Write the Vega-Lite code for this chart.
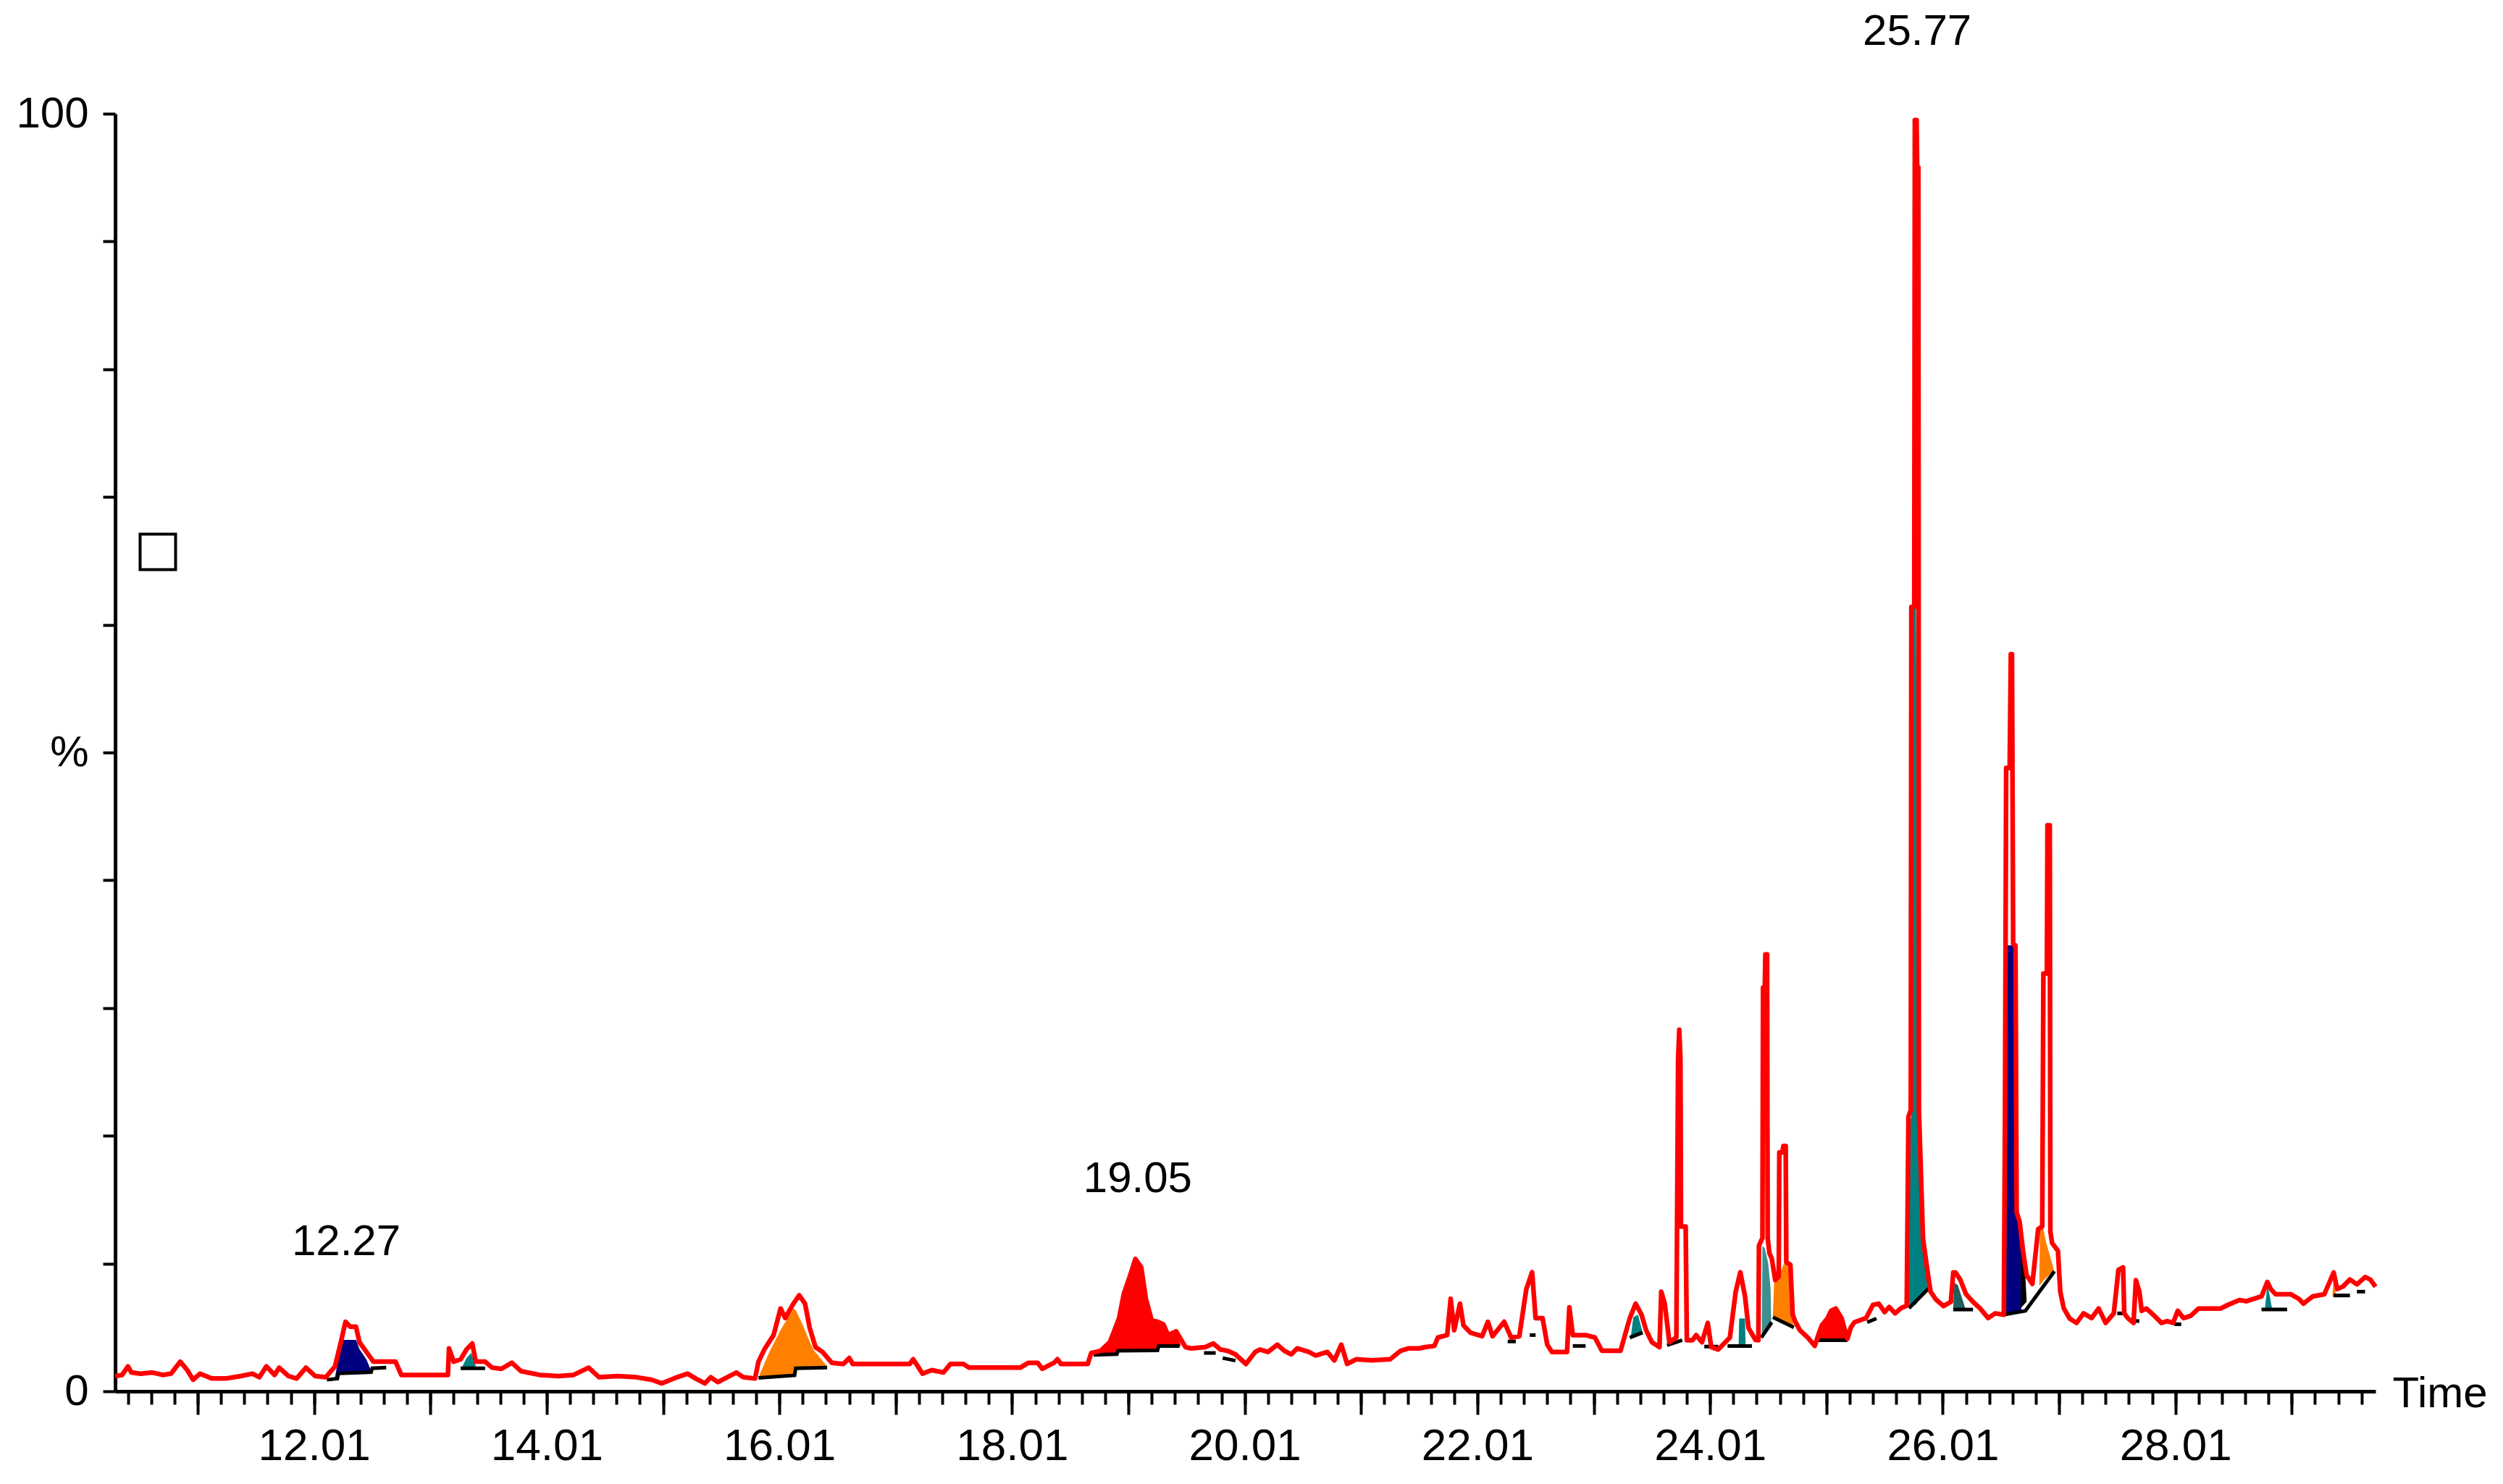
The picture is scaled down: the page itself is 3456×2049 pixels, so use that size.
{
  "$schema": "https://vega.github.io/schema/vega-lite/v6.json",
  "autosize": {"type": "none"},
  "padding": {"left": 159, "top": 157, "right": 176, "bottom": 128},
  "width": 3121,
  "height": 1764,
  "background": "white",
  "config": {"view": {"stroke": null}},
  "datasets": {
    "trace": [
      {"t":10.30,"v":1.19},{"t":10.36,"v":1.28},{"t":10.41,"v":1.95},{"t":10.44,"v":1.47},{"t":10.52,"v":1.38},{"t":10.62,"v":1.47},{"t":10.71,"v":1.28},{"t":10.78,"v":1.38},{"t":10.86,"v":2.32},{"t":10.92,"v":1.66},{"t":10.97,"v":0.91},{"t":11.03,"v":1.38},{"t":11.13,"v":1.0},{"t":11.25,"v":1.0},{"t":11.38,"v":1.19},{"t":11.48,"v":1.38},{"t":11.54,"v":1.1},{"t":11.60,"v":1.95},{"t":11.67,"v":1.28},{"t":11.71,"v":1.85},{"t":11.79,"v":1.19},{"t":11.86,"v":1.0},{"t":11.94,"v":1.85},{"t":12.02,"v":1.19},{"t":12.11,"v":1.1},{"t":12.19,"v":1.95},{"t":12.24,"v":3.84},{"t":12.28,"v":5.44},{"t":12.32,"v":5.06},{"t":12.37,"v":5.06},{"t":12.40,"v":3.84},{"t":12.46,"v":3.08},{"t":12.52,"v":2.32},{"t":12.59,"v":2.32},{"t":12.71,"v":2.32},{"t":12.76,"v":1.28},{"t":13.00,"v":1.28},{"t":13.16,"v":1.28},{"t":13.17,"v":3.36},{"t":13.21,"v":2.32},{"t":13.27,"v":2.51},{"t":13.32,"v":3.27},{"t":13.37,"v":3.74},{"t":13.40,"v":2.32},{"t":13.48,"v":2.32},{"t":13.54,"v":1.85},{"t":13.62,"v":1.76},{"t":13.71,"v":2.23},{"t":13.79,"v":1.57},{"t":13.95,"v":1.28},{"t":14.11,"v":1.19},{"t":14.24,"v":1.28},{"t":14.37,"v":1.85},{"t":14.46,"v":1.1},{"t":14.62,"v":1.19},{"t":14.78,"v":1.1},{"t":14.91,"v":0.91},{"t":15.00,"v":0.62},{"t":15.13,"v":1.1},{"t":15.22,"v":1.38},{"t":15.29,"v":1.0},{"t":15.37,"v":0.62},{"t":15.42,"v":1.1},{"t":15.48,"v":0.72},{"t":15.54,"v":1.0},{"t":15.64,"v":1.47},{"t":15.70,"v":1.1},{"t":15.80,"v":1.0},{"t":15.83,"v":2.32},{"t":15.88,"v":3.27},{"t":15.96,"v":4.4},{"t":16.02,"v":6.48},{"t":16.06,"v":5.73},{"t":16.13,"v":6.86},{"t":16.18,"v":7.52},{"t":16.23,"v":6.86},{"t":16.27,"v":4.97},{"t":16.32,"v":3.46},{"t":16.38,"v":3.08},{"t":16.46,"v":2.23},{"t":16.56,"v":2.14},{"t":16.61,"v":2.61},{"t":16.64,"v":2.14},{"t":17.13,"v":2.14},{"t":17.16,"v":2.51},{"t":17.24,"v":1.38},{"t":17.32,"v":1.66},{"t":17.42,"v":1.47},{"t":17.48,"v":2.14},{"t":17.59,"v":2.14},{"t":17.64,"v":1.85},{"t":18.08,"v":1.85},{"t":18.15,"v":2.23},{"t":18.23,"v":2.23},{"t":18.27,"v":1.76},{"t":18.37,"v":2.23},{"t":18.40,"v":2.51},{"t":18.43,"v":2.14},{"t":18.66,"v":2.14},{"t":18.69,"v":2.99},{"t":18.77,"v":3.17},{"t":18.85,"v":3.84},{"t":18.89,"v":4.78},{"t":18.93,"v":5.73},{"t":18.97,"v":7.62},{"t":19.02,"v":8.94},{"t":19.07,"v":10.36},{"t":19.12,"v":9.7},{"t":19.16,"v":7.24},{"t":19.21,"v":5.54},{"t":19.26,"v":5.44},{"t":19.31,"v":5.25},{"t":19.35,"v":4.4},{"t":19.42,"v":4.69},{"t":19.50,"v":3.46},{"t":19.55,"v":3.36},{"t":19.67,"v":3.46},{"t":19.74,"v":3.74},{"t":19.80,"v":3.27},{"t":19.86,"v":3.17},{"t":19.93,"v":2.89},{"t":20.02,"v":2.14},{"t":20.10,"v":3.08},{"t":20.14,"v":3.27},{"t":20.21,"v":3.08},{"t":20.29,"v":3.65},{"t":20.35,"v":3.17},{"t":20.41,"v":2.89},{"t":20.46,"v":3.36},{"t":20.56,"v":3.08},{"t":20.62,"v":2.8},{"t":20.72,"v":3.08},{"t":20.78,"v":2.42},{"t":20.84,"v":3.65},{"t":20.89,"v":2.14},{"t":20.97,"v":2.51},{"t":21.10,"v":2.42},{"t":21.26,"v":2.51},{"t":21.35,"v":3.17},{"t":21.42,"v":3.36},{"t":21.51,"v":3.36},{"t":21.56,"v":3.46},{"t":21.64,"v":3.55},{"t":21.67,"v":4.21},{"t":21.75,"v":4.4},{"t":21.78,"v":7.24},{"t":21.81,"v":4.78},{"t":21.86,"v":6.86},{"t":21.89,"v":5.16},{"t":21.95,"v":4.59},{"t":22.05,"v":4.31},{"t":22.10,"v":5.44},{"t":22.14,"v":4.31},{"t":22.24,"v":5.44},{"t":22.30,"v":4.21},{"t":22.37,"v":4.31},{"t":22.43,"v":7.99},{"t":22.48,"v":9.32},{"t":22.51,"v":5.73},{"t":22.57,"v":5.73},{"t":22.61,"v":3.65},{"t":22.65,"v":3.08},{"t":22.78,"v":3.08},{"t":22.80,"v":6.58},{"t":22.83,"v":4.4},{"t":22.94,"v":4.4},{"t":23.02,"v":4.21},{"t":23.08,"v":3.17},{"t":23.24,"v":3.17},{"t":23.32,"v":5.73},{"t":23.37,"v":6.86},{"t":23.42,"v":6.01},{"t":23.46,"v":4.78},{"t":23.51,"v":3.84},{"t":23.575,"v":3.46},{"t":23.59,"v":7.8},{"t":23.62,"v":6.86},{"t":23.66,"v":3.84},{"t":23.72,"v":4.21},{"t":23.735,"v":26.0},{"t":23.745,"v":28.3},{"t":23.755,"v":26.0},{"t":23.76,"v":12.9},{"t":23.80,"v":12.9},{"t":23.81,"v":4.0},{"t":23.86,"v":4.0},{"t":23.89,"v":4.4},{"t":23.94,"v":3.84},{"t":23.99,"v":5.35},{"t":24.02,"v":3.46},{"t":24.08,"v":3.27},{"t":24.18,"v":4.21},{"t":24.23,"v":7.8},{"t":24.27,"v":9.32},{"t":24.31,"v":7.43},{"t":24.34,"v":4.97},{"t":24.40,"v":4.02},{"t":24.425,"v":4.0},{"t":24.43,"v":11.4},{"t":24.46,"v":12.0},{"t":24.465,"v":31.6},{"t":24.48,"v":31.6},{"t":24.485,"v":34.2},{"t":24.50,"v":34.2},{"t":24.505,"v":12.0},{"t":24.52,"v":10.8},{"t":24.54,"v":10.4},{"t":24.57,"v":8.7},{"t":24.60,"v":9.0},{"t":24.605,"v":18.7},{"t":24.63,"v":18.7},{"t":24.64,"v":19.2},{"t":24.66,"v":19.2},{"t":24.665,"v":10.1},{"t":24.70,"v":9.9},{"t":24.72,"v":6.0},{"t":24.74,"v":5.5},{"t":24.78,"v":4.8},{"t":24.85,"v":4.2},{"t":24.91,"v":3.55},{"t":24.94,"v":4.4},{"t":24.97,"v":5.16},{"t":25.02,"v":5.73},{"t":25.05,"v":6.3},{"t":25.09,"v":6.48},{"t":25.14,"v":5.73},{"t":25.19,"v":4.1},{"t":25.22,"v":5.0},{"t":25.25,"v":5.4},{"t":25.35,"v":5.73},{"t":25.41,"v":6.76},{"t":25.46,"v":6.86},{"t":25.51,"v":6.2},{"t":25.55,"v":6.6},{"t":25.60,"v":6.1},{"t":25.65,"v":6.5},{"t":25.70,"v":6.7},{"t":25.715,"v":21.5},{"t":25.735,"v":22.0},{"t":25.74,"v":61.4},{"t":25.765,"v":61.4},{"t":25.77,"v":99.5},{"t":25.785,"v":99.5},{"t":25.79,"v":95.8},{"t":25.80,"v":95.8},{"t":25.805,"v":22.0},{"t":25.84,"v":12.0},{"t":25.86,"v":10.6},{"t":25.89,"v":8.7},{"t":25.905,"v":7.8},{"t":25.95,"v":7.2},{"t":26.016,"v":6.67},{"t":26.08,"v":7.0},{"t":26.10,"v":9.3},{"t":26.12,"v":9.3},{"t":26.16,"v":8.75},{"t":26.21,"v":7.6},{"t":26.27,"v":7.0},{"t":26.33,"v":6.5},{"t":26.40,"v":5.73},{"t":26.46,"v":6.1},{"t":26.535,"v":6.0},{"t":26.545,"v":22.0},{"t":26.555,"v":48.8},{"t":26.585,"v":48.8},{"t":26.595,"v":57.7},{"t":26.605,"v":57.7},{"t":26.615,"v":35.0},{"t":26.635,"v":34.9},{"t":26.645,"v":14.0},{"t":26.67,"v":13.3},{"t":26.70,"v":11.0},{"t":26.73,"v":9.1},{"t":26.78,"v":8.4},{"t":26.83,"v":12.7},{"t":26.865,"v":12.9},{"t":26.875,"v":32.7},{"t":26.905,"v":32.7},{"t":26.91,"v":44.3},{"t":26.93,"v":44.3},{"t":26.935,"v":12.5},{"t":26.95,"v":11.6},{"t":27.00,"v":11.0},{"t":27.02,"v":7.8},{"t":27.05,"v":6.5},{"t":27.10,"v":5.7},{"t":27.16,"v":5.35},{"t":27.22,"v":6.1},{"t":27.29,"v":5.73},{"t":27.35,"v":6.48},{"t":27.41,"v":5.35},{"t":27.48,"v":6.1},{"t":27.52,"v":9.5},{"t":27.56,"v":9.7},{"t":27.57,"v":6.1},{"t":27.60,"v":5.73},{"t":27.65,"v":5.35},{"t":27.67,"v":8.7},{"t":27.70,"v":7.8},{"t":27.72,"v":6.3},{"t":27.76,"v":6.48},{"t":27.83,"v":5.9},{"t":27.89,"v":5.35},{"t":27.94,"v":5.5},{"t":27.99,"v":5.35},{"t":28.03,"v":6.3},{"t":28.08,"v":5.73},{"t":28.14,"v":5.9},{"t":28.21,"v":6.48},{"t":28.40,"v":6.48},{"t":28.46,"v":6.76},{"t":28.56,"v":7.14},{"t":28.62,"v":7.05},{"t":28.75,"v":7.43},{"t":28.80,"v":8.56},{"t":28.83,"v":8.0},{"t":28.87,"v":7.6},{"t":29.00,"v":7.6},{"t":29.07,"v":7.24},{"t":29.11,"v":6.86},{"t":29.19,"v":7.43},{"t":29.29,"v":7.6},{"t":29.37,"v":9.3},{"t":29.40,"v":8.0},{"t":29.45,"v":8.2},{"t":29.51,"v":8.75},{"t":29.57,"v":8.37},{"t":29.64,"v":8.94},{"t":29.685,"v":8.75},{"t":29.73,"v":8.18}
    ],
    "fills": [
      {"pk":"f1","c":"#000080","t":12.19,"top":1.1,"base":1.0},{"pk":"f1","c":"#000080","t":12.22,"top":2.6,"base":1.0},{"pk":"f1","c":"#000080","t":12.23,"top":3.4,"base":1.4},{"pk":"f1","c":"#000080","t":12.26,"top":4.02,"base":1.4},{"pk":"f1","c":"#000080","t":12.37,"top":4.02,"base":1.45},{"pk":"f1","c":"#000080","t":12.40,"top":3.3,"base":1.45},{"pk":"f1","c":"#000080","t":12.46,"top":2.5,"base":1.5},{"pk":"f1","c":"#000080","t":12.50,"top":1.6,"base":1.5},
      {"pk":"f2","c":"#008080","t":13.28,"top":1.85,"base":1.8},{"pk":"f2","c":"#008080","t":13.32,"top":2.6,"base":1.8},{"pk":"f2","c":"#008080","t":13.36,"top":3.0,"base":1.8},{"pk":"f2","c":"#008080","t":13.40,"top":2.0,"base":1.8},
      {"pk":"f3","c":"#FF8000","t":15.84,"top":1.3,"base":1.05},{"pk":"f3","c":"#FF8000","t":15.92,"top":3.0,"base":1.1},{"pk":"f3","c":"#FF8000","t":16.02,"top":4.8,"base":1.2},{"pk":"f3","c":"#FF8000","t":16.13,"top":6.45,"base":1.25},{"pk":"f3","c":"#FF8000","t":16.145,"top":6.4,"base":1.25},{"pk":"f3","c":"#FF8000","t":16.15,"top":6.35,"base":1.8},{"pk":"f3","c":"#FF8000","t":16.20,"top":5.4,"base":1.8},{"pk":"f3","c":"#FF8000","t":16.30,"top":3.27,"base":1.85},{"pk":"f3","c":"#FF8000","t":16.42,"top":1.95,"base":1.85},
      {"pk":"f4","c":"#FF0000","t":18.71,"top":2.9,"base":2.85},{"pk":"f4","c":"#FF0000","t":18.77,"top":3.17,"base":2.88},{"pk":"f4","c":"#FF0000","t":18.85,"top":3.84,"base":2.9},{"pk":"f4","c":"#FF0000","t":18.89,"top":4.78,"base":2.9},{"pk":"f4","c":"#FF0000","t":18.91,"top":5.3,"base":2.9},{"pk":"f4","c":"#FF0000","t":18.92,"top":5.5,"base":3.17},{"pk":"f4","c":"#FF0000","t":18.93,"top":5.73,"base":3.17},{"pk":"f4","c":"#FF0000","t":18.97,"top":7.62,"base":3.17},{"pk":"f4","c":"#FF0000","t":19.02,"top":8.94,"base":3.17},{"pk":"f4","c":"#FF0000","t":19.07,"top":10.36,"base":3.17},{"pk":"f4","c":"#FF0000","t":19.12,"top":9.7,"base":3.17},{"pk":"f4","c":"#FF0000","t":19.16,"top":7.24,"base":3.17},{"pk":"f4","c":"#FF0000","t":19.21,"top":5.54,"base":3.17},{"pk":"f4","c":"#FF0000","t":19.26,"top":5.44,"base":3.2},{"pk":"f4","c":"#FF0000","t":19.27,"top":5.35,"base":3.55},{"pk":"f4","c":"#FF0000","t":19.31,"top":5.25,"base":3.55},{"pk":"f4","c":"#FF0000","t":19.35,"top":4.4,"base":3.55},{"pk":"f4","c":"#FF0000","t":19.42,"top":4.69,"base":3.55},{"pk":"f4","c":"#FF0000","t":19.46,"top":3.6,"base":3.55},
      {"pk":"f5","c":"#008080","t":23.33,"top":4.4,"base":4.2},{"pk":"f5","c":"#008080","t":23.35,"top":5.8,"base":4.2},{"pk":"f5","c":"#008080","t":23.39,"top":6.0,"base":4.4},{"pk":"f5","c":"#008080","t":23.43,"top":4.6,"base":4.6},
      {"pk":"f6","c":"#008080","t":24.255,"top":3.6,"base":3.55},{"pk":"f6","c":"#008080","t":24.26,"top":5.7,"base":3.55},{"pk":"f6","c":"#008080","t":24.31,"top":5.7,"base":3.55},{"pk":"f6","c":"#008080","t":24.315,"top":3.6,"base":3.55},
      {"pk":"f7","c":"#3f8f8f","t":24.455,"top":4.4,"base":4.2},{"pk":"f7","c":"#3f8f8f","t":24.46,"top":11.4,"base":4.3},{"pk":"f7","c":"#3f8f8f","t":24.48,"top":11.2,"base":4.6},{"pk":"f7","c":"#3f8f8f","t":24.51,"top":10.0,"base":5.0},{"pk":"f7","c":"#3f8f8f","t":24.53,"top":8.0,"base":5.3},{"pk":"f7","c":"#3f8f8f","t":24.535,"top":5.5,"base":5.4},
      {"pk":"f8","c":"#FF8000","t":24.55,"top":6.0,"base":5.8},{"pk":"f8","c":"#FF8000","t":24.56,"top":8.5,"base":5.8},{"pk":"f8","c":"#FF8000","t":24.60,"top":9.0,"base":5.6},{"pk":"f8","c":"#FF8000","t":24.65,"top":10.1,"base":5.4},{"pk":"f8","c":"#FF8000","t":24.69,"top":9.9,"base":5.2},{"pk":"f8","c":"#FF8000","t":24.72,"top":6.0,"base":5.0},{"pk":"f8","c":"#FF8000","t":24.725,"top":5.1,"base":5.0},
      {"pk":"f9","c":"#FF0000","t":24.93,"top":4.1,"base":4.0},{"pk":"f9","c":"#FF0000","t":24.97,"top":5.16,"base":4.0},{"pk":"f9","c":"#FF0000","t":25.02,"top":5.73,"base":4.0},{"pk":"f9","c":"#FF0000","t":25.05,"top":6.3,"base":4.0},{"pk":"f9","c":"#FF0000","t":25.09,"top":6.48,"base":4.0},{"pk":"f9","c":"#FF0000","t":25.14,"top":5.73,"base":4.0},{"pk":"f9","c":"#FF0000","t":25.19,"top":4.1,"base":4.0},
      {"pk":"f10","c":"#008080","t":25.72,"top":6.7,"base":6.5},{"pk":"f10","c":"#008080","t":25.725,"top":21.0,"base":6.5},{"pk":"f10","c":"#008080","t":25.74,"top":21.5,"base":6.55},{"pk":"f10","c":"#008080","t":25.745,"top":61.4,"base":6.6},{"pk":"f10","c":"#008080","t":25.78,"top":61.4,"base":6.8},{"pk":"f10","c":"#008080","t":25.80,"top":22.0,"base":7.1},{"pk":"f10","c":"#008080","t":25.84,"top":12.0,"base":7.6},{"pk":"f10","c":"#008080","t":25.86,"top":10.4,"base":7.9},{"pk":"f10","c":"#008080","t":25.89,"top":8.4,"base":8.2},
      {"pk":"f11","c":"#1f5f5f","t":26.10,"top":6.5,"base":6.4},{"pk":"f11","c":"#1f5f5f","t":26.11,"top":8.5,"base":6.4},{"pk":"f11","c":"#1f5f5f","t":26.14,"top":8.3,"base":6.4},{"pk":"f11","c":"#1f5f5f","t":26.20,"top":6.6,"base":6.4},
      {"pk":"f12","c":"#000080","t":26.54,"top":6.3,"base":6.0},{"pk":"f12","c":"#000080","t":26.545,"top":21.0,"base":6.0},{"pk":"f12","c":"#000080","t":26.555,"top":34.9,"base":6.0},{"pk":"f12","c":"#000080","t":26.63,"top":34.9,"base":6.1},{"pk":"f12","c":"#000080","t":26.64,"top":14.0,"base":6.1},{"pk":"f12","c":"#000080","t":26.665,"top":13.3,"base":6.2},{"pk":"f12","c":"#000080","t":26.68,"top":11.0,"base":6.2},{"pk":"f12","c":"#000080","t":26.685,"top":6.5,"base":6.2},
      {"pk":"f13","c":"#000000","t":26.68,"top":11.0,"base":6.5},{"pk":"f13","c":"#000000","t":26.70,"top":10.5,"base":6.7},{"pk":"f13","c":"#000000","t":26.72,"top":9.0,"base":6.9},{"pk":"f13","c":"#000000","t":26.73,"top":7.2,"base":7.0},
      {"pk":"f14","c":"#FF8000","t":26.84,"top":8.4,"base":8.3},{"pk":"f14","c":"#FF8000","t":26.845,"top":12.9,"base":8.3},{"pk":"f14","c":"#FF8000","t":26.87,"top":12.9,"base":8.6},{"pk":"f14","c":"#FF8000","t":26.90,"top":11.6,"base":8.9},{"pk":"f14","c":"#FF8000","t":26.95,"top":10.0,"base":9.3},{"pk":"f14","c":"#FF8000","t":26.965,"top":9.5,"base":9.4},
      {"pk":"f15","c":"#008080","t":28.78,"top":6.5,"base":6.4},{"pk":"f15","c":"#008080","t":28.80,"top":8.3,"base":6.4},{"pk":"f15","c":"#008080","t":28.82,"top":7.5,"base":6.4},{"pk":"f15","c":"#008080","t":28.84,"top":6.5,"base":6.4},
      {"pk":"f16","c":"#FF8000","t":29.36,"top":7.5,"base":7.4},{"pk":"f16","c":"#FF8000","t":29.37,"top":8.8,"base":7.4},{"pk":"f16","c":"#FF8000","t":29.39,"top":7.6,"base":7.4}
    ],
    "bases": [
      {"pk":"b1","t":12.12,"v":0.9},{"pk":"b1","t":12.21,"v":1.0},{"pk":"b1","t":12.22,"v":1.4},{"pk":"b1","t":12.50,"v":1.5},{"pk":"b1","t":12.51,"v":1.8},{"pk":"b1","t":12.63,"v":1.85},
      {"pk":"b2","t":13.27,"v":1.8},{"pk":"b2","t":13.48,"v":1.8},
      {"pk":"b3","t":15.83,"v":1.05},{"pk":"b3","t":16.14,"v":1.25},{"pk":"b3","t":16.15,"v":1.8},{"pk":"b3","t":16.42,"v":1.85},
      {"pk":"b4","t":18.71,"v":2.85},{"pk":"b4","t":18.91,"v":2.9},{"pk":"b4","t":18.92,"v":3.17},{"pk":"b4","t":19.26,"v":3.2},{"pk":"b4","t":19.27,"v":3.55},{"pk":"b4","t":19.45,"v":3.55},
      {"pk":"b5","t":19.66,"v":3.0},{"pk":"b5","t":19.76,"v":3.0},
      {"pk":"b6","t":19.82,"v":2.6},{"pk":"b6","t":19.93,"v":2.4},
      {"pk":"b7","t":22.27,"v":3.9},{"pk":"b7","t":22.34,"v":3.9},
      {"pk":"b8","t":22.46,"v":4.4},{"pk":"b8","t":22.51,"v":4.4},
      {"pk":"b9","t":22.83,"v":3.55},{"pk":"b9","t":22.94,"v":3.55},
      {"pk":"b10","t":23.32,"v":4.2},{"pk":"b10","t":23.43,"v":4.6},
      {"pk":"b11","t":23.64,"v":3.6},{"pk":"b11","t":23.77,"v":4.0},
      {"pk":"b12","t":23.96,"v":3.5},{"pk":"b12","t":24.08,"v":3.5},
      {"pk":"b13","t":24.16,"v":3.55},{"pk":"b13","t":24.37,"v":3.55},
      {"pk":"b14","t":24.45,"v":4.2},{"pk":"b14","t":24.54,"v":5.4},
      {"pk":"b15","t":24.55,"v":5.8},{"pk":"b15","t":24.73,"v":5.0},
      {"pk":"b16","t":24.93,"v":4.0},{"pk":"b16","t":25.19,"v":4.0},
      {"pk":"b17","t":25.36,"v":5.4},{"pk":"b17","t":25.44,"v":5.7},
      {"pk":"b18","t":25.72,"v":6.5},{"pk":"b18","t":25.905,"v":8.2},
      {"pk":"b19","t":26.10,"v":6.4},{"pk":"b19","t":26.27,"v":6.4},
      {"pk":"b20","t":26.54,"v":6.0},{"pk":"b20","t":26.72,"v":6.3},{"pk":"b20","t":26.97,"v":9.4},
      {"pk":"b21","t":27.51,"v":6.1},{"pk":"b21","t":27.57,"v":6.1},
      {"pk":"b22","t":27.64,"v":5.5},{"pk":"b22","t":27.70,"v":5.5},
      {"pk":"b23","t":28.00,"v":5.25},{"pk":"b23","t":28.06,"v":5.25},
      {"pk":"b24","t":28.75,"v":6.4},{"pk":"b24","t":28.97,"v":6.4},
      {"pk":"b25","t":29.37,"v":7.5},{"pk":"b25","t":29.51,"v":7.5},
      {"pk":"b26","t":29.57,"v":7.8},{"pk":"b26","t":29.64,"v":7.8}
    ],
    "labels": [
      {"t":12.286,"v":11.7,"label":"12.27"},
      {"t":19.09,"v":16.6,"label":"19.05"},
      {"t":25.79,"v":106.4,"label":"25.77"}
    ],
    "marker": [{"t":10.667,"v":65.7}]
  },
  "resolve": {"axis": {"x": "independent", "y": "independent"}},
  "layer": [
    {
      "data": {"name": "fills"},
      "mark": {"type": "area", "interpolate": "linear"},
      "encoding": {
        "x": {"field": "t", "type": "quantitative",
          "scale": {"domain": [10.30, 29.73], "nice": false, "zero": false},
          "axis": {
            "orient": "bottom",
            "values": [11.01,12.01,13.01,14.01,15.01,16.01,17.01,18.01,19.01,20.01,21.01,22.01,23.01,24.01,25.01,26.01,27.01,28.01,29.01],
            "domain": false, "grid": false,
            "ticks": true, "tickSize": 32, "tickWidth": 4, "tickColor": "black",
            "labelExpr": "round(datum.value - 0.01) % 2 == 0 ? format(datum.value, '.2f') : ''",
            "labelFont": "Liberation Sans, Arial, sans-serif",
            "labelFontSize": 62, "labelColor": "black", "labelPadding": 13,
            "labelOverlap": false, "labelFlush": false, "labelLimit": 0,
            "title": "Time",
            "titleFont": "Liberation Sans, Arial, sans-serif",
            "titleFontSize": 60, "titleFontWeight": "normal", "titleColor": "black",
            "titleX": 3144, "titleY": 3, "titleAlign": "left", "titleBaseline": "middle", "titleAngle": 0
          }
        },
        "y": {"field": "top", "type": "quantitative",
          "scale": {"domain": [0, 100], "nice": false, "zero": false},
          "axis": {
            "orient": "left",
            "values": [0,10,20,30,40,50,60,70,80,90,100],
            "domain": true, "domainColor": "black", "domainWidth": 5,
            "grid": false,
            "ticks": true, "tickSize": 17, "tickWidth": 4, "tickColor": "black",
            "labelExpr": "datum.value == 100 ? '100' : (datum.value == 50 ? '%' : (datum.value == 0 ? '0' : ''))",
            "labelFont": "Liberation Sans, Arial, sans-serif",
            "labelFontSize": 60, "labelColor": "black", "labelPadding": 20,
            "labelOverlap": false, "labelFlush": false, "labelLimit": 0,
            "title": null
          }
        },
        "y2": {"field": "base"},
        "color": {"field": "c", "type": "nominal", "scale": null},
        "detail": {"field": "pk"}
      }
    },
    {
      "data": {"name": "bases"},
      "mark": {"type": "line", "color": "black", "strokeWidth": 5},
      "encoding": {
        "x": {"field": "t", "type": "quantitative", "scale": {"domain": [10.30, 29.73], "nice": false, "zero": false}, "axis": null},
        "y": {"field": "v", "type": "quantitative", "scale": {"domain": [0, 100], "nice": false, "zero": false}, "axis": null},
        "detail": {"field": "pk"}
      }
    },
    {
      "data": {"name": "trace"},
      "mark": {"type": "line", "color": "#FF0000", "strokeWidth": 6.5, "strokeJoin": "round"},
      "encoding": {
        "x": {"field": "t", "type": "quantitative",
          "scale": {"domain": [10.30, 29.73], "nice": false, "zero": false},
          "axis": {
            "orient": "bottom",
            "values": [10.41,10.61,10.81,11.01,11.21,11.41,11.61,11.81,12.01,12.21,12.41,12.61,12.81,13.01,13.21,13.41,13.61,13.81,14.01,14.21,14.41,14.61,14.81,15.01,15.21,15.41,15.61,15.81,16.01,16.21,16.41,16.61,16.81,17.01,17.21,17.41,17.61,17.81,18.01,18.21,18.41,18.61,18.81,19.01,19.21,19.41,19.61,19.81,20.01,20.21,20.41,20.61,20.81,21.01,21.21,21.41,21.61,21.81,22.01,22.21,22.41,22.61,22.81,23.01,23.21,23.41,23.61,23.81,24.01,24.21,24.41,24.61,24.81,25.01,25.21,25.41,25.61,25.81,26.01,26.21,26.41,26.61,26.81,27.01,27.21,27.41,27.61,27.81,28.01,28.21,28.41,28.61,28.81,29.01,29.21,29.41,29.61],
            "domain": true, "domainColor": "black", "domainWidth": 5,
            "grid": false,
            "ticks": true, "tickSize": 18, "tickWidth": 4, "tickColor": "black",
            "labels": false,
            "title": null
          }
        },
        "y": {"field": "v", "type": "quantitative", "scale": {"domain": [0, 100], "nice": false, "zero": false}, "axis": null}
      }
    },
    {
      "data": {"name": "labels"},
      "mark": {"type": "text", "align": "center", "baseline": "middle", "fontSize": 60, "color": "black",
        "font": "Liberation Sans, Arial, sans-serif"},
      "encoding": {
        "x": {"field": "t", "type": "quantitative", "scale": {"domain": [10.30, 29.73], "nice": false, "zero": false}, "axis": null},
        "y": {"field": "v", "type": "quantitative", "scale": {"domain": [0, 100], "nice": false, "zero": false}, "axis": null},
        "text": {"field": "label"}
      }
    },
    {
      "data": {"name": "marker"},
      "mark": {"type": "point", "shape": "square", "filled": false, "size": 2400, "strokeWidth": 4, "color": "black", "opacity": 1},
      "encoding": {
        "x": {"field": "t", "type": "quantitative", "scale": {"domain": [10.30, 29.73], "nice": false, "zero": false}, "axis": null},
        "y": {"field": "v", "type": "quantitative", "scale": {"domain": [0, 100], "nice": false, "zero": false}, "axis": null}
      }
    }
  ]
}
